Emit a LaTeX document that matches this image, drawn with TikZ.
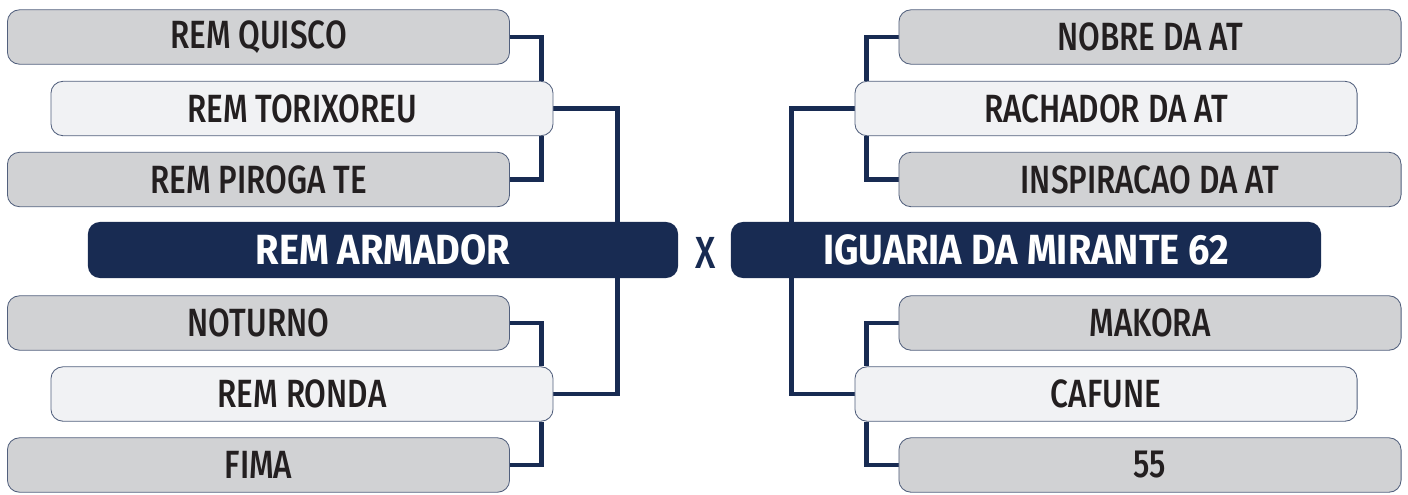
\documentclass[tikz,border=0pt]{standalone}
\usepackage{fontspec}
\setmainfont{Fira Sans}[UprightFont=* Medium,BoldFont=* Bold,
  FakeStretch=0.8,BoldFeatures={FakeStretch=0.9}]
\usetikzlibrary{positioning,backgrounds}
\definecolor{navy}{HTML}{182B52}
\definecolor{boxgrey}{HTML}{D1D2D4}
\definecolor{boxlight}{HTML}{F1F2F4}
\definecolor{ink}{HTML}{231F20}

\begin{document}
\begin{tikzpicture}[x=0.025cm,y=-0.025cm,
    team/.style={draw=navy!75,line width=0.6pt,rounded corners=0.3cm,
      minimum width=12.55cm,minimum height=1.36cm,inner sep=0pt,
      text=ink,font=\fontsize{28}{28}\selectfont},
    heat/.style={team,fill=boxgrey},
    seed/.style={team,fill=boxlight},
    final/.style={fill=navy,draw=none,rounded corners=0.3cm,
      minimum width=14.75cm,minimum height=1.4cm,inner sep=0pt,
      text=white,font=\fontsize{30}{30}\selectfont\bfseries},
    link/.style={draw=navy,line width=3.3pt}]
    \useasboundingbox (0,0) rectangle (1408,494);

    \node[heat] (quisco) at (258.5,37) {REM QUISCO};
    \node[seed] (torix) at (302,108.5) {REM TORIXOREU};
    \node[heat] (piroga) at (258.5,179.5) {REM PIROGA TE};
    \node[final] (armador) at (383,250) {REM ARMADOR};
    \node[heat] (noturno) at (258.5,323) {NOTURNO};
    \node[seed] (ronda) at (302,394) {REM RONDA};
    \node[heat] (fima) at (258.5,465) {FIMA};

    \node[heat] (nobre) at (1150,37) {NOBRE DA AT};
    \node[seed] (rachador) at (1106,108.5) {RACHADOR DA AT};
    \node[heat] (inspira) at (1150,179.5) {INSPIRACAO DA AT};
    \node[final] (iguaria) at (1026,250) {IGUARIA DA MIRANTE 62};
    \node[heat] (makora) at (1150,323) {MAKORA};
    \node[seed] (cafune) at (1106,394) {CAFUNE};
    \node[heat] (cinq) at (1150,465) {55};

    \node[text=navy,font=\fontsize{32}{32}\selectfont] (versus) at (706,253) {X};

    \begin{scope}[on background layer]
    \draw[link] (quisco.east) -| ([xshift=-0.3cm]torix.north east);
    \draw[link] (piroga.east) -| ([xshift=-0.3cm]torix.south east);
    \draw[link] (torix.east) -- ++(64,0) |- (ronda.east);
    \draw[link] (noturno.east) -| ([xshift=-0.3cm]ronda.north east);
    \draw[link] (fima.east) -| ([xshift=-0.3cm]ronda.south east);

    \draw[link] (nobre.west) -| ([xshift=0.3cm]rachador.north west);
    \draw[link] (inspira.west) -| ([xshift=0.3cm]rachador.south west);
    \draw[link] (rachador.west) -- ++(-63,0) |- (cafune.west);
    \draw[link] (makora.west) -| ([xshift=0.3cm]cafune.north west);
    \draw[link] (cinq.west) -| ([xshift=0.3cm]cafune.south west);
    \end{scope}
\end{tikzpicture}
\end{document}
